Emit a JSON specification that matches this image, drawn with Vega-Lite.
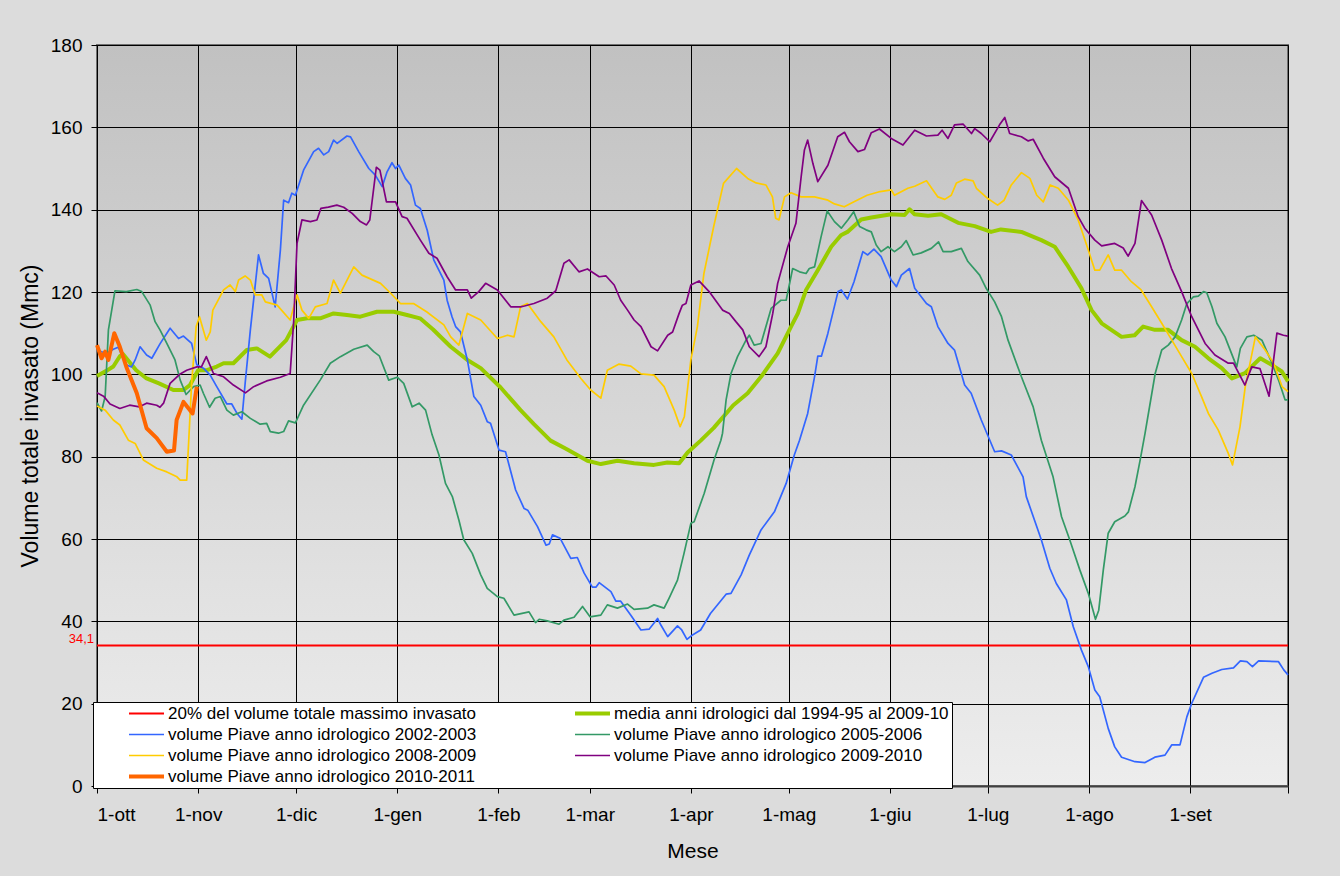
{
"$schema": "https://vega.github.io/schema/vega-lite/v6.json",
"width": 1191,
"height": 741,
"autosize": "none",
"padding": {"left": 97, "top": 45, "right": 52, "bottom": 90},
"background": "#dcdcdc",
"config": {
  "font": "Liberation Sans",
  "view": {"fill": {"gradient": "linear", "x1": 0, "y1": 0, "x2": 0, "y2": 1, "stops": [{"offset": 0, "color": "#c1c1c1"}, {"offset": 1, "color": "#ededed"}]}, "stroke": "#707070", "strokeWidth": 2},
  "axis": {"labelFontSize": 19, "labelColor": "#000000", "titleFontSize": 22, "titleFontWeight": "normal", "titleColor": "#000000", "tickColor": "#000000", "tickSize": 6, "domainColor": "#000000", "gridColor": "#000000", "gridOpacity": 1, "gridWidth": 1}
},
"data": {"values": [
{"anno":"soglia","giorno":0,"volume":34.1},{"anno":"soglia","giorno":365,"volume":34.1},
{"anno":"media","giorno":0,"volume":99.6},{"anno":"media","giorno":3,"volume":100.9},{"anno":"media","giorno":5,"volume":101.9},{"anno":"media","giorno":7,"volume":104.4},{"anno":"media","giorno":8,"volume":104.9},{"anno":"media","giorno":12,"volume":101.0},{"anno":"media","giorno":15,"volume":99.1},{"anno":"media","giorno":19,"volume":97.8},{"anno":"media","giorno":23.4,"volume":96.2},{"anno":"media","giorno":26.5,"volume":96.2},{"anno":"media","giorno":28.5,"volume":97.4},{"anno":"media","giorno":31,"volume":101},{"anno":"media","giorno":33.7,"volume":101},{"anno":"media","giorno":36.7,"volume":101.9},{"anno":"media","giorno":38.8,"volume":102.7},{"anno":"media","giorno":41.8,"volume":102.7},{"anno":"media","giorno":45.9,"volume":105.9},{"anno":"media","giorno":49,"volume":106.3},{"anno":"media","giorno":53,"volume":104.3},{"anno":"media","giorno":58,"volume":108.3},{"anno":"media","giorno":61.3,"volume":113.2},{"anno":"media","giorno":64.4,"volume":113.6},{"anno":"media","giorno":68.4,"volume":113.6},{"anno":"media","giorno":72.5,"volume":114.8},{"anno":"media","giorno":76.6,"volume":114.4},{"anno":"media","giorno":80.7,"volume":114.0},{"anno":"media","giorno":85.8,"volume":115.2},{"anno":"media","giorno":91,"volume":115.2},{"anno":"media","giorno":95,"volume":114.4},{"anno":"media","giorno":99,"volume":113.6},{"anno":"media","giorno":103,"volume":110.9},{"anno":"media","giorno":108.4,"volume":106.7},{"anno":"media","giorno":113.5,"volume":103.5},{"anno":"media","giorno":117.6,"volume":101.5},{"anno":"media","giorno":123.7,"volume":96.8},{"anno":"media","giorno":129.8,"volume":91.3},{"anno":"media","giorno":133.9,"volume":87.9},{"anno":"media","giorno":139,"volume":83.9},{"anno":"media","giorno":144,"volume":81.8},{"anno":"media","giorno":150.3,"volume":79.0},{"anno":"media","giorno":154.4,"volume":78.2},{"anno":"media","giorno":159.5,"volume":79.0},{"anno":"media","giorno":164.6,"volume":78.4},{"anno":"media","giorno":170.7,"volume":78.0},{"anno":"media","giorno":174.8,"volume":78.6},{"anno":"media","giorno":178.4,"volume":78.4},{"anno":"media","giorno":181,"volume":81.0},{"anno":"media","giorno":185,"volume":83.9},{"anno":"media","giorno":189,"volume":87.0},{"anno":"media","giorno":195,"volume":92.5},{"anno":"media","giorno":199.4,"volume":95.4},{"anno":"media","giorno":203.5,"volume":99.4},{"anno":"media","giorno":208.6,"volume":105.1},{"anno":"media","giorno":212.7,"volume":111.6},{"anno":"media","giorno":214.8,"volume":114.8},{"anno":"media","giorno":217.3,"volume":120.5},{"anno":"media","giorno":220.9,"volume":125.3},{"anno":"media","giorno":225,"volume":131.0},{"anno":"media","giorno":228,"volume":133.8},{"anno":"media","giorno":230,"volume":134.6},{"anno":"media","giorno":234.2,"volume":137.6},{"anno":"media","giorno":237.3,"volume":138.1},{"anno":"media","giorno":243.4,"volume":138.9},{"anno":"media","giorno":247.5,"volume":138.7},{"anno":"media","giorno":249,"volume":140.1},{"anno":"media","giorno":250.5,"volume":138.9},{"anno":"media","giorno":254.7,"volume":138.5},{"anno":"media","giorno":258.7,"volume":138.9},{"anno":"media","giorno":263.9,"volume":136.8},{"anno":"media","giorno":269,"volume":136.0},{"anno":"media","giorno":274,"volume":134.6},{"anno":"media","giorno":277,"volume":135.2},{"anno":"media","giorno":283.3,"volume":134.6},{"anno":"media","giorno":289.4,"volume":132.6},{"anno":"media","giorno":293.5,"volume":131.0},{"anno":"media","giorno":297.6,"volume":126.2},{"anno":"media","giorno":301.7,"volume":120.9},{"anno":"media","giorno":304.8,"volume":115.6},{"anno":"media","giorno":307.9,"volume":112.4},{"anno":"media","giorno":314,"volume":109.1},{"anno":"media","giorno":318,"volume":109.5},{"anno":"media","giorno":320.6,"volume":111.6},{"anno":"media","giorno":324.2,"volume":110.8},{"anno":"media","giorno":328.3,"volume":110.8},{"anno":"media","giorno":332.4,"volume":108.3},{"anno":"media","giorno":336.5,"volume":106.7},{"anno":"media","giorno":340.6,"volume":103.9},{"anno":"media","giorno":344.7,"volume":101.5},{"anno":"media","giorno":347.8,"volume":99.0},{"anno":"media","giorno":351.8,"volume":100.3},{"anno":"media","giorno":356.5,"volume":103.9},{"anno":"media","giorno":360,"volume":102.3},{"anno":"media","giorno":363.1,"volume":100.7},{"anno":"media","giorno":365,"volume":98.3},
{"anno":"2002-2003","giorno":0,"volume":105.9},{"anno":"2002-2003","giorno":1.4,"volume":105.5},{"anno":"2002-2003","giorno":3,"volume":105.1},{"anno":"2002-2003","giorno":5,"volume":106.1},{"anno":"2002-2003","giorno":6.5,"volume":106.6},{"anno":"2002-2003","giorno":9,"volume":102.3},{"anno":"2002-2003","giorno":10.6,"volume":101.8},{"anno":"2002-2003","giorno":11.7,"volume":103.5},{"anno":"2002-2003","giorno":13.2,"volume":106.7},{"anno":"2002-2003","giorno":15.2,"volume":104.7},{"anno":"2002-2003","giorno":16.8,"volume":103.9},{"anno":"2002-2003","giorno":19.3,"volume":107.4},{"anno":"2002-2003","giorno":22.4,"volume":111.2},{"anno":"2002-2003","giorno":25,"volume":108.7},{"anno":"2002-2003","giorno":26.5,"volume":109.3},{"anno":"2002-2003","giorno":29,"volume":107.5},{"anno":"2002-2003","giorno":30.6,"volume":102.3},{"anno":"2002-2003","giorno":32.6,"volume":101.5},{"anno":"2002-2003","giorno":34.7,"volume":99.8},{"anno":"2002-2003","giorno":36.7,"volume":97.0},{"anno":"2002-2003","giorno":39.8,"volume":92.8},{"anno":"2002-2003","giorno":41.3,"volume":92.8},{"anno":"2002-2003","giorno":42.9,"volume":90.5},{"anno":"2002-2003","giorno":44.4,"volume":89.1},{"anno":"2002-2003","giorno":45.4,"volume":97.8},{"anno":"2002-2003","giorno":47,"volume":110.8},{"anno":"2002-2003","giorno":49.5,"volume":129.0},{"anno":"2002-2003","giorno":51,"volume":124.5},{"anno":"2002-2003","giorno":52.6,"volume":123.3},{"anno":"2002-2003","giorno":54.6,"volume":116.4},{"anno":"2002-2003","giorno":56.2,"volume":130.2},{"anno":"2002-2003","giorno":57.2,"volume":142.3},{"anno":"2002-2003","giorno":58.7,"volume":141.7},{"anno":"2002-2003","giorno":59.7,"volume":144.0},{"anno":"2002-2003","giorno":60.8,"volume":143.5},{"anno":"2002-2003","giorno":63.3,"volume":149.6},{"anno":"2002-2003","giorno":66.4,"volume":154.1},{"anno":"2002-2003","giorno":67.9,"volume":154.9},{"anno":"2002-2003","giorno":69.5,"volume":153.3},{"anno":"2002-2003","giorno":71,"volume":154.1},{"anno":"2002-2003","giorno":72.5,"volume":156.9},{"anno":"2002-2003","giorno":73.6,"volume":156.1},{"anno":"2002-2003","giorno":76.6,"volume":157.9},{"anno":"2002-2003","giorno":77.7,"volume":157.7},{"anno":"2002-2003","giorno":80.2,"volume":154.1},{"anno":"2002-2003","giorno":83.3,"volume":150.0},{"anno":"2002-2003","giorno":85.3,"volume":148.4},{"anno":"2002-2003","giorno":87.4,"volume":145.6},{"anno":"2002-2003","giorno":88.9,"volume":149.2},{"anno":"2002-2003","giorno":90.4,"volume":151.4},{"anno":"2002-2003","giorno":91.5,"volume":150.0},{"anno":"2002-2003","giorno":92.5,"volume":150.8},{"anno":"2002-2003","giorno":94.5,"volume":147.6},{"anno":"2002-2003","giorno":96.1,"volume":146.0},{"anno":"2002-2003","giorno":97.6,"volume":141.1},{"anno":"2002-2003","giorno":99.1,"volume":140.3},{"anno":"2002-2003","giorno":101.2,"volume":135.0},{"anno":"2002-2003","giorno":103.2,"volume":127.8},{"anno":"2002-2003","giorno":106.3,"volume":122.9},{"anno":"2002-2003","giorno":107.3,"volume":118.0},{"anno":"2002-2003","giorno":108.8,"volume":114.0},{"anno":"2002-2003","giorno":109.9,"volume":111.6},{"anno":"2002-2003","giorno":111.4,"volume":110.3},{"anno":"2002-2003","giorno":113.5,"volume":103.5},{"anno":"2002-2003","giorno":115.5,"volume":94.6},{"anno":"2002-2003","giorno":117.6,"volume":92.5},{"anno":"2002-2003","giorno":119.6,"volume":88.5},{"anno":"2002-2003","giorno":120.6,"volume":88.1},{"anno":"2002-2003","giorno":123.2,"volume":81.6},{"anno":"2002-2003","giorno":125.2,"volume":81.2},{"anno":"2002-2003","giorno":128.3,"volume":71.9},{"anno":"2002-2003","giorno":130.9,"volume":67.4},{"anno":"2002-2003","giorno":132,"volume":67.0},{"anno":"2002-2003","giorno":135,"volume":63.0},{"anno":"2002-2003","giorno":137.6,"volume":58.5},{"anno":"2002-2003","giorno":138.6,"volume":58.8},{"anno":"2002-2003","giorno":139.6,"volume":61.0},{"anno":"2002-2003","giorno":141.9,"volume":60.2},{"anno":"2002-2003","giorno":145.2,"volume":55.3},{"anno":"2002-2003","giorno":147.2,"volume":55.5},{"anno":"2002-2003","giorno":149.3,"volume":51.7},{"anno":"2002-2003","giorno":151.8,"volume":48.3},{"anno":"2002-2003","giorno":152.9,"volume":48.3},{"anno":"2002-2003","giorno":153.9,"volume":49.4},{"anno":"2002-2003","giorno":157.5,"volume":47.2},{"anno":"2002-2003","giorno":159,"volume":44.9},{"anno":"2002-2003","giorno":160.5,"volume":44.9},{"anno":"2002-2003","giorno":163.6,"volume":41.5},{"anno":"2002-2003","giorno":166.7,"volume":37.9},{"anno":"2002-2003","giorno":169.2,"volume":38.1},{"anno":"2002-2003","giorno":171.8,"volume":40.7},{"anno":"2002-2003","giorno":172.8,"volume":39.1},{"anno":"2002-2003","giorno":174.9,"volume":36.3},{"anno":"2002-2003","giorno":177.9,"volume":38.9},{"anno":"2002-2003","giorno":179.2,"volume":37.9},{"anno":"2002-2003","giorno":180.8,"volume":35.6},{"anno":"2002-2003","giorno":182.5,"volume":36.7},{"anno":"2002-2003","giorno":185,"volume":37.9},{"anno":"2002-2003","giorno":188,"volume":41.9},{"anno":"2002-2003","giorno":192.8,"volume":46.6},{"anno":"2002-2003","giorno":194.3,"volume":46.8},{"anno":"2002-2003","giorno":197.4,"volume":51.3},{"anno":"2002-2003","giorno":199.9,"volume":56.1},{"anno":"2002-2003","giorno":203.5,"volume":62.2},{"anno":"2002-2003","giorno":207.6,"volume":66.6},{"anno":"2002-2003","giorno":211.2,"volume":73.5},{"anno":"2002-2003","giorno":213.7,"volume":80.4},{"anno":"2002-2003","giorno":215.3,"volume":84.0},{"anno":"2002-2003","giorno":217.8,"volume":90.5},{"anno":"2002-2003","giorno":219.9,"volume":99.4},{"anno":"2002-2003","giorno":220.9,"volume":104.4},{"anno":"2002-2003","giorno":222,"volume":104.4},{"anno":"2002-2003","giorno":224,"volume":110.0},{"anno":"2002-2003","giorno":227.1,"volume":120.1},{"anno":"2002-2003","giorno":228.1,"volume":120.5},{"anno":"2002-2003","giorno":230,"volume":118.3},{"anno":"2002-2003","giorno":232,"volume":122.5},{"anno":"2002-2003","giorno":234.7,"volume":129.8},{"anno":"2002-2003","giorno":236.2,"volume":129.0},{"anno":"2002-2003","giorno":238.1,"volume":130.4},{"anno":"2002-2003","giorno":240.3,"volume":128.6},{"anno":"2002-2003","giorno":243.4,"volume":122.9},{"anno":"2002-2003","giorno":245,"volume":121.3},{"anno":"2002-2003","giorno":246.5,"volume":124.1},{"anno":"2002-2003","giorno":249,"volume":125.7},{"anno":"2002-2003","giorno":250.6,"volume":120.9},{"anno":"2002-2003","giorno":254.2,"volume":117.2},{"anno":"2002-2003","giorno":255.7,"volume":116.4},{"anno":"2002-2003","giorno":257.7,"volume":111.6},{"anno":"2002-2003","giorno":260.8,"volume":107.5},{"anno":"2002-2003","giorno":262.8,"volume":105.9},{"anno":"2002-2003","giorno":265.9,"volume":97.4},{"anno":"2002-2003","giorno":267.9,"volume":95.4},{"anno":"2002-2003","giorno":271,"volume":88.9},{"anno":"2002-2003","giorno":275.1,"volume":81.2},{"anno":"2002-2003","giorno":277.2,"volume":81.4},{"anno":"2002-2003","giorno":280.2,"volume":80.4},{"anno":"2002-2003","giorno":283.8,"volume":75.1},{"anno":"2002-2003","giorno":284.8,"volume":70.3},{"anno":"2002-2003","giorno":289.4,"volume":59.8},{"anno":"2002-2003","giorno":292,"volume":52.9},{"anno":"2002-2003","giorno":294,"volume":49.2},{"anno":"2002-2003","giorno":297.1,"volume":45.2},{"anno":"2002-2003","giorno":299.2,"volume":38.7},{"anno":"2002-2003","giorno":301.7,"volume":33.0},{"anno":"2002-2003","giorno":303.8,"volume":29.0},{"anno":"2002-2003","giorno":305.8,"volume":23.3},{"anno":"2002-2003","giorno":307.3,"volume":21.7},{"anno":"2002-2003","giorno":309.9,"volume":14.0},{"anno":"2002-2003","giorno":311.9,"volume":9.5},{"anno":"2002-2003","giorno":314,"volume":7.0},{"anno":"2002-2003","giorno":318.1,"volume":5.9},{"anno":"2002-2003","giorno":321.2,"volume":5.7},{"anno":"2002-2003","giorno":324.2,"volume":7.0},{"anno":"2002-2003","giorno":327.3,"volume":7.5},{"anno":"2002-2003","giorno":329.4,"volume":10.0},{"anno":"2002-2003","giorno":331.9,"volume":10.0},{"anno":"2002-2003","giorno":334,"volume":16.8},{"anno":"2002-2003","giorno":335.5,"volume":20.1},{"anno":"2002-2003","giorno":339.1,"volume":26.4},{"anno":"2002-2003","giorno":341.7,"volume":27.4},{"anno":"2002-2003","giorno":344.7,"volume":28.3},{"anno":"2002-2003","giorno":348.3,"volume":28.7},{"anno":"2002-2003","giorno":350.4,"volume":30.4},{"anno":"2002-2003","giorno":352.4,"volume":30.2},{"anno":"2002-2003","giorno":354.1,"volume":29.0},{"anno":"2002-2003","giorno":356,"volume":30.4},{"anno":"2002-2003","giorno":362.1,"volume":30.2},{"anno":"2002-2003","giorno":363.7,"volume":28.2},{"anno":"2002-2003","giorno":365,"volume":27.0},
{"anno":"2005-2006","giorno":0,"volume":93.1},{"anno":"2005-2006","giorno":1.4,"volume":91.1},{"anno":"2005-2006","giorno":2.5,"volume":94.6},{"anno":"2005-2006","giorno":3.5,"volume":110.8},{"anno":"2005-2006","giorno":5.5,"volume":120.3},{"anno":"2005-2006","giorno":9,"volume":120.1},{"anno":"2005-2006","giorno":12.2,"volume":120.6},{"anno":"2005-2006","giorno":13.7,"volume":120.1},{"anno":"2005-2006","giorno":16.3,"volume":116.8},{"anno":"2005-2006","giorno":17.8,"volume":112.8},{"anno":"2005-2006","giorno":19.3,"volume":110.8},{"anno":"2005-2006","giorno":21.4,"volume":107.5},{"anno":"2005-2006","giorno":23.9,"volume":103.5},{"anno":"2005-2006","giorno":25.5,"volume":98.6},{"anno":"2005-2006","giorno":27.3,"volume":95.1},{"anno":"2005-2006","giorno":29.6,"volume":97.0},{"anno":"2005-2006","giorno":31.6,"volume":97.4},{"anno":"2005-2006","giorno":32.6,"volume":95.4},{"anno":"2005-2006","giorno":34.5,"volume":92.0},{"anno":"2005-2006","giorno":36.2,"volume":94.2},{"anno":"2005-2006","giorno":37.8,"volume":94.6},{"anno":"2005-2006","giorno":39.8,"volume":91.3},{"anno":"2005-2006","giorno":41.8,"volume":90.1},{"anno":"2005-2006","giorno":44.4,"volume":90.9},{"anno":"2005-2006","giorno":47,"volume":89.3},{"anno":"2005-2006","giorno":50,"volume":87.9},{"anno":"2005-2006","giorno":52,"volume":88.1},{"anno":"2005-2006","giorno":53.1,"volume":86.1},{"anno":"2005-2006","giorno":55.6,"volume":85.7},{"anno":"2005-2006","giorno":57.2,"volume":86.1},{"anno":"2005-2006","giorno":58.7,"volume":88.7},{"anno":"2005-2006","giorno":60.8,"volume":88.2},{"anno":"2005-2006","giorno":63.3,"volume":92.5},{"anno":"2005-2006","giorno":68.4,"volume":98.6},{"anno":"2005-2006","giorno":71.5,"volume":102.7},{"anno":"2005-2006","giorno":74.6,"volume":104.3},{"anno":"2005-2006","giorno":78.7,"volume":106.1},{"anno":"2005-2006","giorno":82.8,"volume":107.1},{"anno":"2005-2006","giorno":84.8,"volume":105.5},{"anno":"2005-2006","giorno":86.5,"volume":104.5},{"anno":"2005-2006","giorno":89.4,"volume":98.6},{"anno":"2005-2006","giorno":92,"volume":99.3},{"anno":"2005-2006","giorno":94,"volume":97.8},{"anno":"2005-2006","giorno":96.6,"volume":92.1},{"anno":"2005-2006","giorno":98.7,"volume":93.0},{"anno":"2005-2006","giorno":100.7,"volume":91.3},{"anno":"2005-2006","giorno":102.7,"volume":85.3},{"anno":"2005-2006","giorno":104.8,"volume":80.4},{"anno":"2005-2006","giorno":106.8,"volume":73.5},{"anno":"2005-2006","giorno":108.9,"volume":70.3},{"anno":"2005-2006","giorno":110.9,"volume":64.6},{"anno":"2005-2006","giorno":112.4,"volume":59.8},{"anno":"2005-2006","giorno":115,"volume":56.5},{"anno":"2005-2006","giorno":117.6,"volume":51.3},{"anno":"2005-2006","giorno":119.6,"volume":48.0},{"anno":"2005-2006","giorno":122.7,"volume":46.0},{"anno":"2005-2006","giorno":124.7,"volume":45.6},{"anno":"2005-2006","giorno":127.8,"volume":41.5},{"anno":"2005-2006","giorno":132.4,"volume":42.3},{"anno":"2005-2006","giorno":134.4,"volume":39.7},{"anno":"2005-2006","giorno":135.5,"volume":40.5},{"anno":"2005-2006","giorno":138,"volume":40.1},{"anno":"2005-2006","giorno":141.6,"volume":39.3},{"anno":"2005-2006","giorno":143.1,"volume":40.3},{"anno":"2005-2006","giorno":146.2,"volume":41.0},{"anno":"2005-2006","giorno":148.8,"volume":43.6},{"anno":"2005-2006","giorno":151.1,"volume":41.1},{"anno":"2005-2006","giorno":154.4,"volume":41.5},{"anno":"2005-2006","giorno":156.4,"volume":44.0},{"anno":"2005-2006","giorno":159.5,"volume":43.2},{"anno":"2005-2006","giorno":162.6,"volume":44.2},{"anno":"2005-2006","giorno":164.6,"volume":42.9},{"anno":"2005-2006","giorno":168.7,"volume":43.2},{"anno":"2005-2006","giorno":170.7,"volume":44.0},{"anno":"2005-2006","giorno":173.8,"volume":43.2},{"anno":"2005-2006","giorno":175.3,"volume":45.6},{"anno":"2005-2006","giorno":177.9,"volume":50.0},{"anno":"2005-2006","giorno":179.9,"volume":56.5},{"anno":"2005-2006","giorno":182,"volume":63.8},{"anno":"2005-2006","giorno":183,"volume":64.2},{"anno":"2005-2006","giorno":186.1,"volume":71.1},{"anno":"2005-2006","giorno":189.1,"volume":79.2},{"anno":"2005-2006","giorno":191.2,"volume":84.0},{"anno":"2005-2006","giorno":191.7,"volume":85.7},{"anno":"2005-2006","giorno":192.8,"volume":93.8},{"anno":"2005-2006","giorno":194.3,"volume":100.2},{"anno":"2005-2006","giorno":196.3,"volume":104.3},{"anno":"2005-2006","giorno":198.9,"volume":108.3},{"anno":"2005-2006","giorno":199.9,"volume":109.5},{"anno":"2005-2006","giorno":201.4,"volume":107.1},{"anno":"2005-2006","giorno":203.5,"volume":107.5},{"anno":"2005-2006","giorno":206.6,"volume":116.0},{"anno":"2005-2006","giorno":209.6,"volume":118.0},{"anno":"2005-2006","giorno":211.2,"volume":118.0},{"anno":"2005-2006","giorno":213.2,"volume":125.7},{"anno":"2005-2006","giorno":215.3,"volume":124.9},{"anno":"2005-2006","giorno":217.3,"volume":124.5},{"anno":"2005-2006","giorno":218.3,"volume":125.7},{"anno":"2005-2006","giorno":219.9,"volume":126.1},{"anno":"2005-2006","giorno":221.9,"volume":133.4},{"anno":"2005-2006","giorno":223.8,"volume":139.7},{"anno":"2005-2006","giorno":226,"volume":137.1},{"anno":"2005-2006","giorno":228.1,"volume":135.5},{"anno":"2005-2006","giorno":230.1,"volume":137.5},{"anno":"2005-2006","giorno":231.9,"volume":139.5},{"anno":"2005-2006","giorno":233.7,"volume":135.9},{"anno":"2005-2006","giorno":235.7,"volume":135.1},{"anno":"2005-2006","giorno":237.3,"volume":134.6},{"anno":"2005-2006","giorno":238.8,"volume":131.4},{"anno":"2005-2006","giorno":240.3,"volume":129.8},{"anno":"2005-2006","giorno":242.4,"volume":131.0},{"anno":"2005-2006","giorno":244.4,"volume":129.8},{"anno":"2005-2006","giorno":246.5,"volume":131.0},{"anno":"2005-2006","giorno":248,"volume":132.5},{"anno":"2005-2006","giorno":250.1,"volume":129.0},{"anno":"2005-2006","giorno":252.6,"volume":129.5},{"anno":"2005-2006","giorno":255.7,"volume":130.6},{"anno":"2005-2006","giorno":257.9,"volume":132.2},{"anno":"2005-2006","giorno":259.3,"volume":129.8},{"anno":"2005-2006","giorno":261.8,"volume":129.8},{"anno":"2005-2006","giorno":264.9,"volume":130.6},{"anno":"2005-2006","giorno":266.9,"volume":127.4},{"anno":"2005-2006","giorno":270.5,"volume":124.1},{"anno":"2005-2006","giorno":272.5,"volume":120.9},{"anno":"2005-2006","giorno":275.1,"volume":117.6},{"anno":"2005-2006","giorno":277.2,"volume":114.0},{"anno":"2005-2006","giorno":279.2,"volume":108.3},{"anno":"2005-2006","giorno":283.3,"volume":99.4},{"anno":"2005-2006","giorno":286.9,"volume":92.1},{"anno":"2005-2006","giorno":289.4,"volume":84.0},{"anno":"2005-2006","giorno":293,"volume":75.1},{"anno":"2005-2006","giorno":295.6,"volume":65.4},{"anno":"2005-2006","giorno":298.1,"volume":59.8},{"anno":"2005-2006","giorno":301.2,"volume":52.5},{"anno":"2005-2006","giorno":303.8,"volume":46.8},{"anno":"2005-2006","giorno":306,"volume":40.5},{"anno":"2005-2006","giorno":307,"volume":42.7},{"anno":"2005-2006","giorno":308.4,"volume":52.5},{"anno":"2005-2006","giorno":309.9,"volume":61.4},{"anno":"2005-2006","giorno":311.9,"volume":64.2},{"anno":"2005-2006","giorno":315,"volume":65.6},{"anno":"2005-2006","giorno":316.1,"volume":66.6},{"anno":"2005-2006","giorno":318.1,"volume":72.7},{"anno":"2005-2006","giorno":319.7,"volume":79.2},{"anno":"2005-2006","giorno":321.2,"volume":85.7},{"anno":"2005-2006","giorno":324.3,"volume":100.2},{"anno":"2005-2006","giorno":326.3,"volume":105.9},{"anno":"2005-2006","giorno":328.3,"volume":107.1},{"anno":"2005-2006","giorno":330.4,"volume":109.1},{"anno":"2005-2006","giorno":332.4,"volume":113.2},{"anno":"2005-2006","giorno":334,"volume":117.2},{"anno":"2005-2006","giorno":336,"volume":118.8},{"anno":"2005-2006","giorno":337.5,"volume":119.0},{"anno":"2005-2006","giorno":339.1,"volume":120.1},{"anno":"2005-2006","giorno":340.1,"volume":119.8},{"anno":"2005-2006","giorno":341.7,"volume":116.4},{"anno":"2005-2006","giorno":343.2,"volume":112.4},{"anno":"2005-2006","giorno":345.7,"volume":109.1},{"anno":"2005-2006","giorno":349.3,"volume":101.8},{"anno":"2005-2006","giorno":350.4,"volume":106.3},{"anno":"2005-2006","giorno":352.4,"volume":109.1},{"anno":"2005-2006","giorno":354.5,"volume":109.5},{"anno":"2005-2006","giorno":357,"volume":108.3},{"anno":"2005-2006","giorno":360.1,"volume":102.7},{"anno":"2005-2006","giorno":362.1,"volume":98.6},{"anno":"2005-2006","giorno":364.1,"volume":93.8},{"anno":"2005-2006","giorno":365,"volume":93.8},
{"anno":"2008-2009","giorno":0,"volume":92.3},{"anno":"2008-2009","giorno":2.5,"volume":91.3},{"anno":"2008-2009","giorno":5,"volume":88.9},{"anno":"2008-2009","giorno":7,"volume":87.7},{"anno":"2008-2009","giorno":9.6,"volume":84.0},{"anno":"2008-2009","giorno":11.7,"volume":83.2},{"anno":"2008-2009","giorno":14.2,"volume":79.2},{"anno":"2008-2009","giorno":18.3,"volume":77.2},{"anno":"2008-2009","giorno":21.4,"volume":76.3},{"anno":"2008-2009","giorno":24.5,"volume":75.1},{"anno":"2008-2009","giorno":25.5,"volume":74.3},{"anno":"2008-2009","giorno":27.5,"volume":74.3},{"anno":"2008-2009","giorno":29,"volume":97.8},{"anno":"2008-2009","giorno":30.4,"volume":111.6},{"anno":"2008-2009","giorno":31.4,"volume":114.0},{"anno":"2008-2009","giorno":33.5,"volume":108.3},{"anno":"2008-2009","giorno":34.7,"volume":110.3},{"anno":"2008-2009","giorno":35.5,"volume":115.6},{"anno":"2008-2009","giorno":38.8,"volume":120.5},{"anno":"2008-2009","giorno":40.8,"volume":121.7},{"anno":"2008-2009","giorno":42.4,"volume":120.1},{"anno":"2008-2009","giorno":43.4,"volume":122.9},{"anno":"2008-2009","giorno":45.4,"volume":123.9},{"anno":"2008-2009","giorno":47,"volume":122.9},{"anno":"2008-2009","giorno":48.5,"volume":119.3},{"anno":"2008-2009","giorno":50.5,"volume":119.3},{"anno":"2008-2009","giorno":51.6,"volume":117.6},{"anno":"2008-2009","giorno":55.2,"volume":116.8},{"anno":"2008-2009","giorno":59.2,"volume":113.2},{"anno":"2008-2009","giorno":61.3,"volume":119.3},{"anno":"2008-2009","giorno":62.8,"volume":115.6},{"anno":"2008-2009","giorno":64.9,"volume":113.6},{"anno":"2008-2009","giorno":66.9,"volume":116.4},{"anno":"2008-2009","giorno":70.5,"volume":117.2},{"anno":"2008-2009","giorno":72.5,"volume":122.9},{"anno":"2008-2009","giorno":74.6,"volume":119.7},{"anno":"2008-2009","giorno":78.7,"volume":126.1},{"anno":"2008-2009","giorno":81.2,"volume":124.1},{"anno":"2008-2009","giorno":86.9,"volume":122.1},{"anno":"2008-2009","giorno":90,"volume":119.7},{"anno":"2008-2009","giorno":93,"volume":117.2},{"anno":"2008-2009","giorno":97,"volume":117.2},{"anno":"2008-2009","giorno":101,"volume":115.2},{"anno":"2008-2009","giorno":106.3,"volume":112.0},{"anno":"2008-2009","giorno":108.4,"volume":109.1},{"anno":"2008-2009","giorno":110.9,"volume":107.1},{"anno":"2008-2009","giorno":113.5,"volume":114.8},{"anno":"2008-2009","giorno":117.6,"volume":113.2},{"anno":"2008-2009","giorno":122.7,"volume":108.7},{"anno":"2008-2009","giorno":125.8,"volume":109.5},{"anno":"2008-2009","giorno":127.8,"volume":109.1},{"anno":"2008-2009","giorno":129.8,"volume":116.4},{"anno":"2008-2009","giorno":131.9,"volume":117.2},{"anno":"2008-2009","giorno":136,"volume":112.8},{"anno":"2008-2009","giorno":140,"volume":109.1},{"anno":"2008-2009","giorno":144,"volume":103.5},{"anno":"2008-2009","giorno":148.3,"volume":99.0},{"anno":"2008-2009","giorno":151.3,"volume":96.2},{"anno":"2008-2009","giorno":154.4,"volume":94.2},{"anno":"2008-2009","giorno":156.4,"volume":101.0},{"anno":"2008-2009","giorno":160,"volume":102.5},{"anno":"2008-2009","giorno":163.6,"volume":102.0},{"anno":"2008-2009","giorno":166.7,"volume":100.1},{"anno":"2008-2009","giorno":170.7,"volume":99.8},{"anno":"2008-2009","giorno":173.8,"volume":97.0},{"anno":"2008-2009","giorno":176.9,"volume":91.3},{"anno":"2008-2009","giorno":178.7,"volume":87.3},{"anno":"2008-2009","giorno":180,"volume":89.7},{"anno":"2008-2009","giorno":182,"volume":103.5},{"anno":"2008-2009","giorno":184,"volume":111.6},{"anno":"2008-2009","giorno":186,"volume":124.5},{"anno":"2008-2009","giorno":189,"volume":135.9},{"anno":"2008-2009","giorno":192,"volume":146.4},{"anno":"2008-2009","giorno":196,"volume":150.0},{"anno":"2008-2009","giorno":199.4,"volume":147.6},{"anno":"2008-2009","giorno":202,"volume":146.5},{"anno":"2008-2009","giorno":205,"volume":146.0},{"anno":"2008-2009","giorno":207,"volume":143.1},{"anno":"2008-2009","giorno":208,"volume":137.9},{"anno":"2008-2009","giorno":209,"volume":137.5},{"anno":"2008-2009","giorno":210.7,"volume":143.1},{"anno":"2008-2009","giorno":212.7,"volume":144.1},{"anno":"2008-2009","giorno":215.8,"volume":143.1},{"anno":"2008-2009","giorno":219.9,"volume":143.1},{"anno":"2008-2009","giorno":224,"volume":142.3},{"anno":"2008-2009","giorno":226,"volume":141.4},{"anno":"2008-2009","giorno":229,"volume":140.7},{"anno":"2008-2009","giorno":232,"volume":141.9},{"anno":"2008-2009","giorno":236,"volume":143.5},{"anno":"2008-2009","giorno":240,"volume":144.4},{"anno":"2008-2009","giorno":243.4,"volume":144.8},{"anno":"2008-2009","giorno":244.4,"volume":143.5},{"anno":"2008-2009","giorno":248.5,"volume":145.2},{"anno":"2008-2009","giorno":250.6,"volume":145.7},{"anno":"2008-2009","giorno":254.2,"volume":147.0},{"anno":"2008-2009","giorno":257.7,"volume":143.1},{"anno":"2008-2009","giorno":259.8,"volume":142.5},{"anno":"2008-2009","giorno":261.8,"volume":143.5},{"anno":"2008-2009","giorno":263.4,"volume":146.5},{"anno":"2008-2009","giorno":265.9,"volume":147.4},{"anno":"2008-2009","giorno":268.5,"volume":147.0},{"anno":"2008-2009","giorno":269.5,"volume":145.2},{"anno":"2008-2009","giorno":273,"volume":142.7},{"anno":"2008-2009","giorno":276,"volume":141.1},{"anno":"2008-2009","giorno":278,"volume":142.3},{"anno":"2008-2009","giorno":280.2,"volume":146.0},{"anno":"2008-2009","giorno":283.3,"volume":149.0},{"anno":"2008-2009","giorno":285.9,"volume":147.6},{"anno":"2008-2009","giorno":288,"volume":143.5},{"anno":"2008-2009","giorno":290,"volume":141.9},{"anno":"2008-2009","giorno":292.1,"volume":146.0},{"anno":"2008-2009","giorno":294.6,"volume":145.2},{"anno":"2008-2009","giorno":297.7,"volume":142.3},{"anno":"2008-2009","giorno":300.7,"volume":137.5},{"anno":"2008-2009","giorno":303.8,"volume":130.2},{"anno":"2008-2009","giorno":305.8,"volume":125.3},{"anno":"2008-2009","giorno":307.3,"volume":125.3},{"anno":"2008-2009","giorno":309.9,"volume":129.0},{"anno":"2008-2009","giorno":311.9,"volume":125.3},{"anno":"2008-2009","giorno":314,"volume":125.3},{"anno":"2008-2009","giorno":317,"volume":122.5},{"anno":"2008-2009","giorno":320,"volume":120.5},{"anno":"2008-2009","giorno":323.2,"volume":116.4},{"anno":"2008-2009","giorno":326.3,"volume":112.4},{"anno":"2008-2009","giorno":329.4,"volume":108.3},{"anno":"2008-2009","giorno":332.4,"volume":104.3},{"anno":"2008-2009","giorno":335.5,"volume":100.2},{"anno":"2008-2009","giorno":338.5,"volume":94.6},{"anno":"2008-2009","giorno":340.6,"volume":90.5},{"anno":"2008-2009","giorno":343.6,"volume":86.5},{"anno":"2008-2009","giorno":346.7,"volume":80.8},{"anno":"2008-2009","giorno":348,"volume":78.0},{"anno":"2008-2009","giorno":350.3,"volume":87.3},{"anno":"2008-2009","giorno":351.9,"volume":97.0},{"anno":"2008-2009","giorno":355,"volume":109.1},{"anno":"2008-2009","giorno":358,"volume":105.9},{"anno":"2008-2009","giorno":360.6,"volume":102.7},{"anno":"2008-2009","giorno":363.2,"volume":97.0},{"anno":"2008-2009","giorno":365,"volume":95.8},
{"anno":"2009-2010","giorno":0,"volume":95.5},{"anno":"2009-2010","giorno":2,"volume":94.7},{"anno":"2009-2010","giorno":4,"volume":92.8},{"anno":"2009-2010","giorno":7,"volume":91.7},{"anno":"2009-2010","giorno":10,"volume":92.5},{"anno":"2009-2010","giorno":13,"volume":92.1},{"anno":"2009-2010","giorno":15.2,"volume":93.0},{"anno":"2009-2010","giorno":18.3,"volume":92.5},{"anno":"2009-2010","giorno":19.3,"volume":92.0},{"anno":"2009-2010","giorno":20.4,"volume":93.0},{"anno":"2009-2010","giorno":22.4,"volume":97.8},{"anno":"2009-2010","giorno":25.5,"volume":100.1},{"anno":"2009-2010","giorno":27.5,"volume":101.0},{"anno":"2009-2010","giorno":30.6,"volume":101.8},{"anno":"2009-2010","giorno":32,"volume":101.8},{"anno":"2009-2010","giorno":33.5,"volume":104.3},{"anno":"2009-2010","giorno":35.7,"volume":100.2},{"anno":"2009-2010","giorno":38.8,"volume":99.4},{"anno":"2009-2010","giorno":41.8,"volume":97.4},{"anno":"2009-2010","giorno":45.5,"volume":95.5},{"anno":"2009-2010","giorno":48,"volume":97.0},{"anno":"2009-2010","giorno":52,"volume":98.4},{"anno":"2009-2010","giorno":56.2,"volume":99.3},{"anno":"2009-2010","giorno":59.2,"volume":100.2},{"anno":"2009-2010","giorno":60.3,"volume":113.2},{"anno":"2009-2010","giorno":61.3,"volume":131.8},{"anno":"2009-2010","giorno":62.8,"volume":137.5},{"anno":"2009-2010","giorno":65.4,"volume":137.1},{"anno":"2009-2010","giorno":67.4,"volume":137.5},{"anno":"2009-2010","giorno":68.6,"volume":140.3},{"anno":"2009-2010","giorno":70.9,"volume":140.6},{"anno":"2009-2010","giorno":73.5,"volume":141.1},{"anno":"2009-2010","giorno":75.6,"volume":140.6},{"anno":"2009-2010","giorno":78.2,"volume":139.1},{"anno":"2009-2010","giorno":80.7,"volume":137.1},{"anno":"2009-2010","giorno":82.6,"volume":136.3},{"anno":"2009-2010","giorno":83.6,"volume":137.5},{"anno":"2009-2010","giorno":85.6,"volume":150.3},{"anno":"2009-2010","giorno":86.7,"volume":149.6},{"anno":"2009-2010","giorno":88.7,"volume":141.9},{"anno":"2009-2010","giorno":91.5,"volume":141.9},{"anno":"2009-2010","giorno":93.5,"volume":138.3},{"anno":"2009-2010","giorno":95,"volume":137.9},{"anno":"2009-2010","giorno":99.1,"volume":132.6},{"anno":"2009-2010","giorno":101.7,"volume":129.4},{"anno":"2009-2010","giorno":104.2,"volume":128.2},{"anno":"2009-2010","giorno":107.3,"volume":123.7},{"anno":"2009-2010","giorno":109.9,"volume":120.5},{"anno":"2009-2010","giorno":113.5,"volume":120.5},{"anno":"2009-2010","giorno":114.7,"volume":118.5},{"anno":"2009-2010","giorno":117,"volume":120.1},{"anno":"2009-2010","giorno":119.1,"volume":122.1},{"anno":"2009-2010","giorno":122.7,"volume":120.5},{"anno":"2009-2010","giorno":126.8,"volume":116.4},{"anno":"2009-2010","giorno":129.8,"volume":116.4},{"anno":"2009-2010","giorno":131,"volume":116.6},{"anno":"2009-2010","giorno":133.9,"volume":117.2},{"anno":"2009-2010","giorno":138,"volume":118.5},{"anno":"2009-2010","giorno":140.6,"volume":120.3},{"anno":"2009-2010","giorno":143.1,"volume":127.0},{"anno":"2009-2010","giorno":144.7,"volume":127.8},{"anno":"2009-2010","giorno":147.7,"volume":124.9},{"anno":"2009-2010","giorno":150.3,"volume":125.6},{"anno":"2009-2010","giorno":153.9,"volume":123.7},{"anno":"2009-2010","giorno":156,"volume":123.9},{"anno":"2009-2010","giorno":158.5,"volume":121.7},{"anno":"2009-2010","giorno":160.5,"volume":118.0},{"anno":"2009-2010","giorno":162.6,"volume":115.6},{"anno":"2009-2010","giorno":164.6,"volume":113.2},{"anno":"2009-2010","giorno":166.7,"volume":111.6},{"anno":"2009-2010","giorno":169.8,"volume":106.7},{"anno":"2009-2010","giorno":171.8,"volume":105.7},{"anno":"2009-2010","giorno":174.9,"volume":109.5},{"anno":"2009-2010","giorno":176.4,"volume":110.3},{"anno":"2009-2010","giorno":178.4,"volume":114.8},{"anno":"2009-2010","giorno":179.4,"volume":116.8},{"anno":"2009-2010","giorno":180.5,"volume":117.2},{"anno":"2009-2010","giorno":182,"volume":121.7},{"anno":"2009-2010","giorno":184.5,"volume":122.7},{"anno":"2009-2010","giorno":187.6,"volume":120.1},{"anno":"2009-2010","giorno":191.7,"volume":115.6},{"anno":"2009-2010","giorno":193.8,"volume":114.8},{"anno":"2009-2010","giorno":195.8,"volume":112.8},{"anno":"2009-2010","giorno":197.9,"volume":110.8},{"anno":"2009-2010","giorno":199.9,"volume":106.7},{"anno":"2009-2010","giorno":202.9,"volume":104.3},{"anno":"2009-2010","giorno":205,"volume":106.7},{"anno":"2009-2010","giorno":207.1,"volume":114.8},{"anno":"2009-2010","giorno":208.6,"volume":122.1},{"anno":"2009-2010","giorno":211.7,"volume":131.0},{"anno":"2009-2010","giorno":214.2,"volume":136.7},{"anno":"2009-2010","giorno":215.8,"volume":148.0},{"anno":"2009-2010","giorno":216.8,"volume":154.5},{"anno":"2009-2010","giorno":217.8,"volume":156.9},{"anno":"2009-2010","giorno":219.4,"volume":151.2},{"anno":"2009-2010","giorno":220.9,"volume":146.8},{"anno":"2009-2010","giorno":224,"volume":150.8},{"anno":"2009-2010","giorno":227,"volume":157.7},{"anno":"2009-2010","giorno":229.1,"volume":158.8},{"anno":"2009-2010","giorno":230.6,"volume":156.5},{"anno":"2009-2010","giorno":233.2,"volume":154.1},{"anno":"2009-2010","giorno":235.2,"volume":154.6},{"anno":"2009-2010","giorno":237.3,"volume":158.7},{"anno":"2009-2010","giorno":239.8,"volume":159.6},{"anno":"2009-2010","giorno":243.4,"volume":157.3},{"anno":"2009-2010","giorno":247,"volume":155.7},{"anno":"2009-2010","giorno":250.6,"volume":159.3},{"anno":"2009-2010","giorno":254.2,"volume":157.9},{"anno":"2009-2010","giorno":257.7,"volume":158.1},{"anno":"2009-2010","giorno":259,"volume":159.3},{"anno":"2009-2010","giorno":260.8,"volume":157.3},{"anno":"2009-2010","giorno":262.8,"volume":160.6},{"anno":"2009-2010","giorno":265.4,"volume":160.8},{"anno":"2009-2010","giorno":268,"volume":158.5},{"anno":"2009-2010","giorno":269,"volume":159.7},{"anno":"2009-2010","giorno":271,"volume":158.5},{"anno":"2009-2010","giorno":273.6,"volume":156.5},{"anno":"2009-2010","giorno":276.6,"volume":160.6},{"anno":"2009-2010","giorno":278.2,"volume":162.4},{"anno":"2009-2010","giorno":279.7,"volume":158.5},{"anno":"2009-2010","giorno":283.3,"volume":157.7},{"anno":"2009-2010","giorno":285.4,"volume":156.7},{"anno":"2009-2010","giorno":286.9,"volume":157.1},{"anno":"2009-2010","giorno":290,"volume":152.5},{"anno":"2009-2010","giorno":293.5,"volume":148.0},{"anno":"2009-2010","giorno":297.7,"volume":145.2},{"anno":"2009-2010","giorno":300.7,"volume":138.3},{"anno":"2009-2010","giorno":302.7,"volume":135.5},{"anno":"2009-2010","giorno":305.8,"volume":132.6},{"anno":"2009-2010","giorno":307.9,"volume":131.2},{"anno":"2009-2010","giorno":311.9,"volume":131.8},{"anno":"2009-2010","giorno":314.5,"volume":130.7},{"anno":"2009-2010","giorno":316,"volume":128.7},{"anno":"2009-2010","giorno":318.1,"volume":131.8},{"anno":"2009-2010","giorno":320.1,"volume":142.2},{"anno":"2009-2010","giorno":323.2,"volume":138.7},{"anno":"2009-2010","giorno":326.3,"volume":132.6},{"anno":"2009-2010","giorno":329.3,"volume":125.7},{"anno":"2009-2010","giorno":332.4,"volume":120.1},{"anno":"2009-2010","giorno":335.5,"volume":114.0},{"anno":"2009-2010","giorno":339.6,"volume":107.5},{"anno":"2009-2010","giorno":342.6,"volume":104.7},{"anno":"2009-2010","giorno":346.7,"volume":102.7},{"anno":"2009-2010","giorno":348.3,"volume":102.7},{"anno":"2009-2010","giorno":351.8,"volume":97.4},{"anno":"2009-2010","giorno":353.9,"volume":101.8},{"anno":"2009-2010","giorno":356.4,"volume":101.4},{"anno":"2009-2010","giorno":359.2,"volume":94.7},{"anno":"2009-2010","giorno":361.6,"volume":110.0},{"anno":"2009-2010","giorno":363.6,"volume":109.5},{"anno":"2009-2010","giorno":365,"volume":109.3},
{"anno":"2010-2011","giorno":0,"volume":107.1},{"anno":"2010-2011","giorno":1.4,"volume":103.9},{"anno":"2010-2011","giorno":2.5,"volume":105.5},{"anno":"2010-2011","giorno":3.5,"volume":103.5},{"anno":"2010-2011","giorno":5.3,"volume":110.0},{"anno":"2010-2011","giorno":7,"volume":106.7},{"anno":"2010-2011","giorno":9,"volume":101.8},{"anno":"2010-2011","giorno":12.2,"volume":95.4},{"anno":"2010-2011","giorno":15.2,"volume":86.9},{"anno":"2010-2011","giorno":18.3,"volume":84.5},{"anno":"2010-2011","giorno":21.4,"volume":81.2},{"anno":"2010-2011","giorno":23.6,"volume":81.5},{"anno":"2010-2011","giorno":24.4,"volume":88.9},{"anno":"2010-2011","giorno":26.5,"volume":93.3},{"anno":"2010-2011","giorno":29.3,"volume":90.5},{"anno":"2010-2011","giorno":30.6,"volume":97.0}
]},
"layer": [
  {
    "mark": {"type": "line", "strokeJoin": "round"},
    "encoding": {
      "x": {"field": "giorno", "type": "quantitative", "scale": {"domain": [0, 365], "nice": false, "zero": false},
            "axis": {"title": "Mese", "values": [0,31,61,92,123,151,182,212,243,273,304,335,365], "tickSize": 7, "labelPadding": 12, "titlePadding": 16, "titleFontSize": 21, "domainColor": "#404040", "domainWidth": 2,
                     "labelExpr": "['1-ott','1-nov','1-dic','1-gen','1-feb','1-mar','1-apr','1-mag','1-giu','1-lug','1-ago','1-set',''][indexof([0,31,61,92,123,151,182,212,243,273,304,335,365], datum.value)]"}},
      "y": {"field": "volume", "type": "quantitative", "scale": {"domain": [0, 180], "nice": false},
            "axis": {"title": "Volume totale invasato (Mmc)", "values": [0,20,40,60,80,100,120,140,160,180], "labelPadding": 9, "titlePadding": 8, "titleFontSize": 23}},
      "color": {"field": "anno", "type": "nominal",
                "scale": {"domain": ["soglia","media","2002-2003","2005-2006","2008-2009","2009-2010","2010-2011"],
                          "range": ["#ff0000","#99cc00","#3366ff","#339966","#ffcc00","#800080","#ff6600"]},
                "legend": {"title": null, "orient": "none", "legendX": -4, "legendY": 657, "direction": "horizontal", "columns": 2,
                           "fillColor": "#ffffff", "strokeColor": "#000000", "padding": 3, "symbolType": "stroke", "symbolSize": 1225,
                           "clipHeight": 17, "rowPadding": 3, "columnPadding": 65, "symbolOffset": 31, "labelOffset": 2, "labelFontSize": 17, "labelColor": "#000000", "labelLimit": 500,
                           "labelExpr": "datum.label == 'soglia' ? '20% del volume totale massimo invasato' : datum.label == 'media' ? 'media anni idrologici dal 1994-95 al 2009-10' : 'volume Piave anno idrologico ' + datum.label"}},
      "strokeWidth": {"field": "anno", "type": "nominal",
                "scale": {"type": "ordinal", "domain": ["soglia","media","2002-2003","2005-2006","2008-2009","2009-2010","2010-2011"], "range": [2, 4, 1.7, 1.7, 1.7, 1.7, 4]}}
    }
  },
  {
    "data": {"values": [{"giorno": 0, "volume": 34.1, "etichetta": "34,1"}]},
    "mark": {"type": "text", "align": "right", "baseline": "bottom", "dx": -3, "dy": 0, "fontSize": 13, "color": "#ff0000"},
    "encoding": {
      "x": {"field": "giorno", "type": "quantitative"},
      "y": {"field": "volume", "type": "quantitative"},
      "text": {"field": "etichetta"}
    }
  }
]
}
